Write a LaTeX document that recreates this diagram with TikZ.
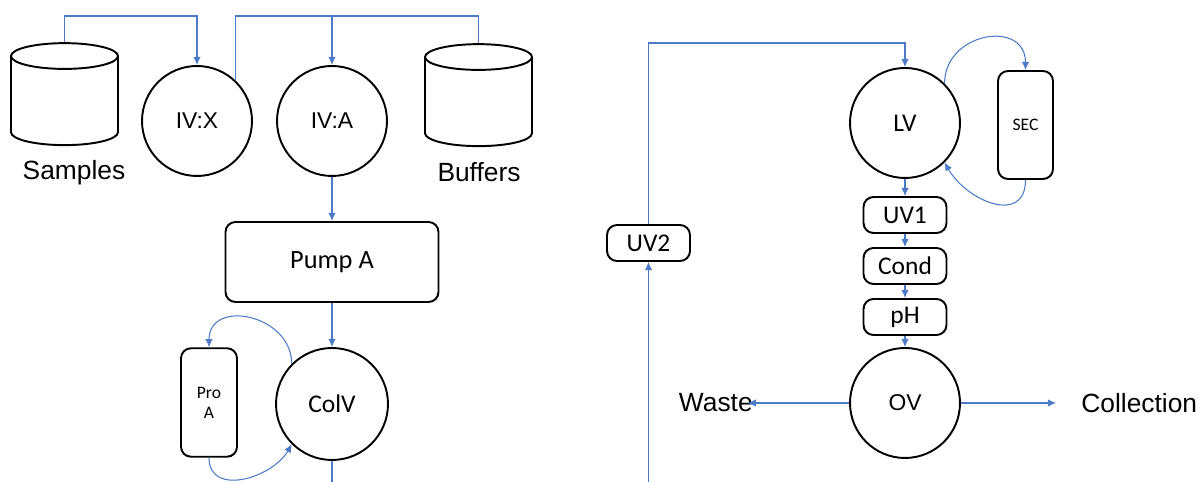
\documentclass[tikz,border=0pt]{standalone}
\usepackage{fontspec}
\setmainfont{Liberation Sans}
\newfontfamily\calibri{Carlito}
\usetikzlibrary{arrows.meta,shapes.geometric}

\definecolor{pipeblue}{RGB}{76,122,198}

\tikzset{
  valve/.style={circle, draw, line width=1.1pt, minimum size=2.2cm, inner sep=0pt,
    font=\fontsize{13}{15}\selectfont},
  unit/.style={rectangle, rounded corners=0.2cm, draw, line width=1.1pt, inner sep=0pt,
    font=\calibri\fontsize{14.5}{17}\selectfont},
  column/.style={unit, minimum width=1.12cm, minimum height=2.17cm, align=center,
    font=\calibri\fontsize{10}{11.3}\selectfont},
  detector/.style={unit, minimum width=1.66cm, minimum height=0.72cm},
  tank/.style={cylinder, shape border rotate=90, aspect=2.2, draw, line width=1.1pt,
    minimum width=2.14cm, minimum height=2.04cm},
  tag/.style={inner sep=0pt, font=\fontsize{15}{18}\selectfont},
  pipe/.style={draw=pipeblue, line width=0.6pt},
  flow/.style={pipe, -{Latex[length=4.6pt,width=4.2pt]}}
}

\begin{document}
\begin{tikzpicture}[x=0.02cm, y=0.02cm]

\useasboundingbox (0,0) rectangle (1199,482);

% Helper levels for the header lines
\coordinate (bus) at (0,466);
\coordinate (loop) at (0,439);
\coordinate (floor) at (0,0);

% Inlet side: tanks and inlet valves
\node[tank] (samples) at (64.5,378) {};
\node[tank] (buffers) at (478.5,377) {};
\node[tag] (samplestag) at (74,309) {Samples};
\node[tag] (bufferstag) at (479,310) {Buffers};

\node[valve] (ivx) at (197,361) {IV:X};
\node[valve] (iva) at (332,361) {IV:A};

% Pump and column valve
\node[unit, minimum width=4.26cm, minimum height=1.6cm, font=\calibri\fontsize{15}{18}\selectfont] (pump) at (332,220) {Pump A};
\node[valve, minimum size=2.24cm, font=\calibri\fontsize{14.5}{17}\selectfont] (colv) at (332,78) {ColV};
\node[column] (proa) at (209,79.5) {Pro\\A};

% Outlet side
\node[detector] (uv2) at (648.5,239) {UV2};
\node[valve, font=\calibri\fontsize{14.5}{17}\selectfont] (lv) at (905,359) {LV};
\node[column, minimum width=1.1cm, minimum height=2.16cm] (sec) at (1025.5,357) {SEC};
\node[detector] (uv1) at (905,267) {UV1};
\node[detector] (cond) at (905,216) {Cond};
\node[detector] (ph) at (905,165) {pH};
\node[valve] (ov) at (905,79) {OV};

\node[tag, anchor=east] (waste) at (753,79) {Waste};
\node[tag, anchor=west] (collection) at (1081,79) {Collection};

% Header lines on top
\draw[flow] (samples.north) -- (samples.north |- bus) -| (ivx.north);
\draw[pipe] (ivx.47) -- (ivx.47 |- bus) -| (buffers.north);
\draw[flow] (iva.north |- bus) -- (iva.north);

% Main path through the pump
\draw[flow] (iva) -- (pump);
\draw[flow] (pump) -- (colv);
\draw[pipe] (colv.south) -- (colv.south |- floor);

% Column loop
\draw[flow] (colv.135) to[out=90, in=90, looseness=1.5] (proa.north);
\draw[flow] (proa.south) to[out=-90, in=-120, looseness=1.2] (colv.225);

% Return line and SEC loop
\draw[flow] (uv2.south |- floor) -- (uv2.south);
\draw[flow] (uv2.north) -- (uv2.north |- loop) -| (lv.north);
\draw[flow] (lv.45) to[out=90, in=90, looseness=1.6] (sec.north);
\draw[flow] (sec.south) to[out=-90, in=-60, looseness=1.4] (lv.-45);

% Detector chain
\draw[flow] (lv) -- (uv1);
\draw[flow] (uv1) -- (cond);
\draw[flow] (cond) -- (ph);
\draw[flow] (ph) -- (ov);

% Outlet valve
\draw[flow] (ov) -- ([xshift=-3pt]waste.east);
\draw[flow, shorten >=0.5cm] (ov) -- (collection.west);

\end{tikzpicture}
\end{document}
